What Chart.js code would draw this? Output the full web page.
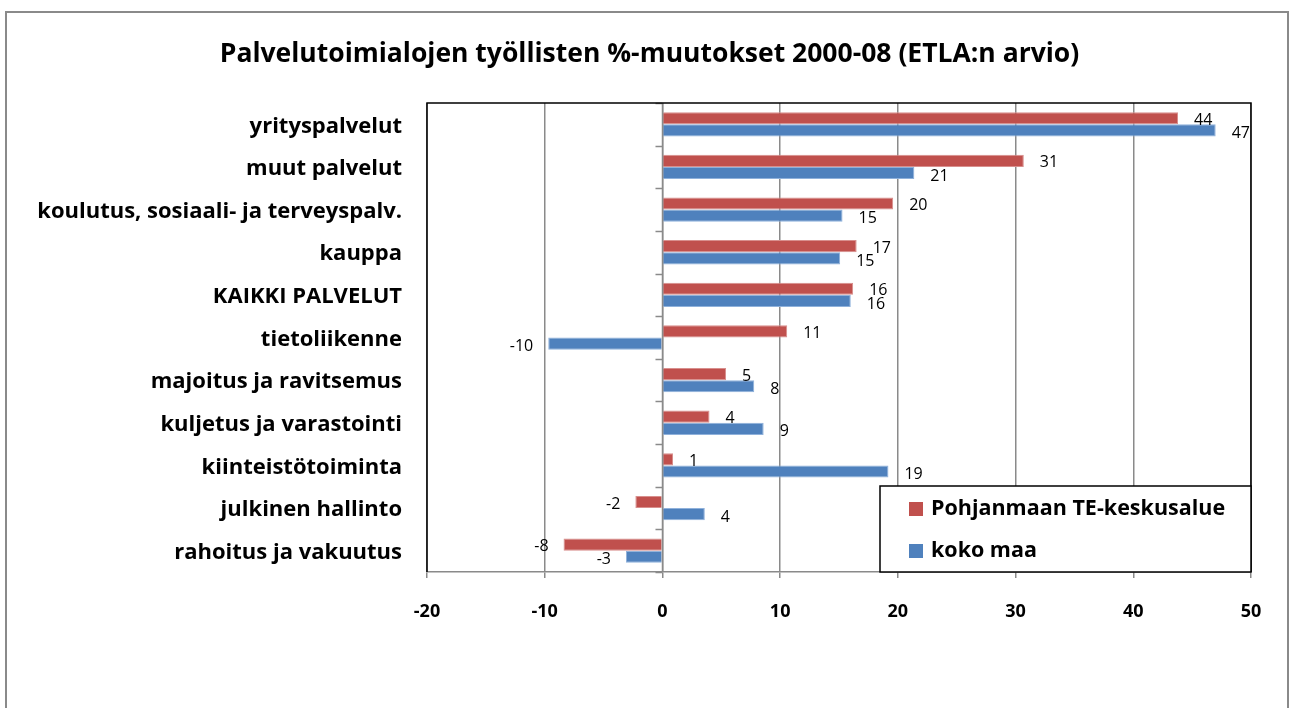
<!DOCTYPE html>
<html>
<head>
<meta charset="utf-8">
<script src="https://cdn.jsdelivr.net/npm/chart.js@4"></script>
<style>
  html, body { margin: 0; padding: 0; background: #fff; overflow: hidden; }
  #wrap { width: 1293px; height: 708px; position: relative; }
</style>
</head>
<body>
<div id="wrap"><canvas id="chart" width="1293" height="708"></canvas></div>
<script>
// categories, top to bottom
var categories = [
  'yrityspalvelut',
  'muut palvelut',
  'koulutus, sosiaali- ja terveyspalv.',
  'kauppa',
  'KAIKKI PALVELUT',
  'tietoliikenne',
  'majoitus ja ravitsemus',
  'kuljetus ja varastointi',
  'kiinteistötoiminta',
  'julkinen hallinto',
  'rahoitus ja vakuutus'
];
var seriesNames = ['Pohjanmaan TE-keskusalue', 'koko maa'];
var pohjanmaa = [43.8, 30.7, 19.6, 16.5, 16.2, 10.6, 5.4, 4.0, 0.9, -2.3, -8.4];
var kokoMaa = [47.0, 21.4, 15.3, 15.1, 16.0, -9.7, 7.8, 8.6, 19.2, 3.6, -3.1];
var xTicks = [-20, -10, 0, 10, 20, 30, 40, 50];

var FONT = '"Open Sans", "Noto Sans", sans-serif';
var RED = '#C0504D';
var BLUE = '#4F81BD';

// frame, plot border, category ticks at zero, value labels, legend
var extras = {
  id: 'extras',
  beforeDraw: function(chart) {
    var c = chart.ctx;
    c.save();
    c.fillStyle = '#fff';
    c.fillRect(0, 0, chart.width, chart.height);
    c.strokeStyle = '#8a8a8a';
    c.lineWidth = 2;
    c.strokeRect(6, 12, 1282, 720);
    c.restore();
  },
  afterDatasetsDraw: function(chart) {
    var c = chart.ctx;
    var a = chart.chartArea;
    var xs = chart.scales.x, ys = chart.scales.y;
    c.save();
    // zero line with tick marks between categories
    var x0 = Math.round(xs.getPixelForValue(0)) + 0.5;
    c.strokeStyle = '#8a8a8a';
    c.lineWidth = 1.5;
    c.beginPath();
    c.moveTo(x0, a.top); c.lineTo(x0, a.bottom);
    for (var i = 0; i <= categories.length; i++) {
      var yy = Math.round(ys.getPixelForValue(i - 0.5)) + 0.5;
      c.moveTo(x0 - 7, yy); c.lineTo(x0, yy);
    }
    c.stroke();
    // plot border (left, top, right)
    c.strokeStyle = '#000';
    c.lineWidth = 1.5;
    c.beginPath();
    c.moveTo(a.left, a.bottom); c.lineTo(a.left, a.top);
    c.lineTo(a.right, a.top); c.lineTo(a.right, a.bottom);
    c.stroke();
    // value labels
    c.fillStyle = '#000';
    c.font = '16px ' + FONT;
    c.textBaseline = 'middle';
    chart.data.datasets.forEach(function(ds, di) {
      var meta = chart.getDatasetMeta(di);
      meta.data.forEach(function(bar, j) {
        var v = ds.data[j];
        var txt = String(Math.round(v));
        var dy = di === 0 ? 2 : 3;
        if (v >= 0) {
          c.textAlign = 'left';
          c.fillText(txt, bar.x + 16, bar.y + dy);
        } else {
          c.textAlign = 'right';
          c.fillText(txt, bar.x - 15, bar.y + dy);
        }
      });
    });
    // legend
    var lx = 880, ly = 486, lw = 371, lh = 86;
    c.fillStyle = '#fff';
    c.fillRect(lx, ly, lw, lh);
    c.strokeStyle = '#000';
    c.lineWidth = 1.5;
    c.strokeRect(lx, ly, lw, lh);
    c.font = 'bold 21.5px ' + FONT;
    c.textAlign = 'left';
    c.textBaseline = 'middle';
    var rows = [509, 551];
    chart.data.datasets.forEach(function(ds, di) {
      c.fillStyle = ds.backgroundColor;
      c.fillRect(909, rows[di] - 7, 14, 14);
      c.fillStyle = '#000';
      c.fillText(ds.label, 931, rows[di]);
    });
    c.restore();
  }
};

var ctx = document.getElementById('chart').getContext('2d');
var chart = new Chart(ctx, {
  type: 'bar',
  data: {
    labels: categories,
    datasets: [{
      label: seriesNames[0],
      data: pohjanmaa,
      backgroundColor: RED,
      borderColor: '#d88f8d',
      borderWidth: 1,
      barPercentage: 1,
      categoryPercentage: 0.57
    }, {
      label: seriesNames[1],
      data: kokoMaa,
      backgroundColor: BLUE,
      borderColor: '#8fb1db',
      borderWidth: 1,
      barPercentage: 1,
      categoryPercentage: 0.57
    }]
  },
  options: {
    indexAxis: 'y',
    responsive: false,
    animation: false,
    layout: { padding: { left: 6, right: 0, top: 0, bottom: 0 } },
    plugins: {
      legend: { display: false },
      tooltip: { enabled: false },
      title: {
        display: true,
        text: 'Palvelutoimialojen työllisten %-muutokset 2000-08 (ETLA:n arvio)',
        color: '#000',
        font: { family: FONT, size: 26.5, weight: 'bold', lineHeight: 1.2 },
        padding: { top: 39, bottom: 32.2 }
      }
    },
    scales: {
      x: {
        min: -20,
        max: 50,
        afterBuildTicks: function(s) { s.ticks = xTicks.map(function(v) { return { value: v }; }); },
        afterFit: function(s) { s.height = 136; },
        grid: { color: '#8a8a8a', lineWidth: 1.5, tickLength: 6, drawTicks: true },
        border: { display: true, color: '#8a8a8a', width: 1.5 },
        ticks: { color: '#000', font: { family: FONT, size: 18, weight: 'bold' }, padding: 23 }
      },
      y: {
        afterFit: function(s) { s.width = 421; },
        grid: { display: false, drawTicks: false },
        border: { display: false },
        ticks: { color: '#000', font: { family: FONT, size: 22, weight: 'bold' }, padding: 25, labelOffset: 2 }
      },
      // empty right-hand spacer so the plot ends where the reference's does
      spacer: {
        type: 'linear',
        axis: 'y',
        position: 'right',
        afterFit: function(s) { s.width = 42; },
        grid: { display: false, drawTicks: false },
        border: { display: false },
        ticks: { display: false }
      }
    }
  },
  plugins: [extras]
});
</script>
</body>
</html>
